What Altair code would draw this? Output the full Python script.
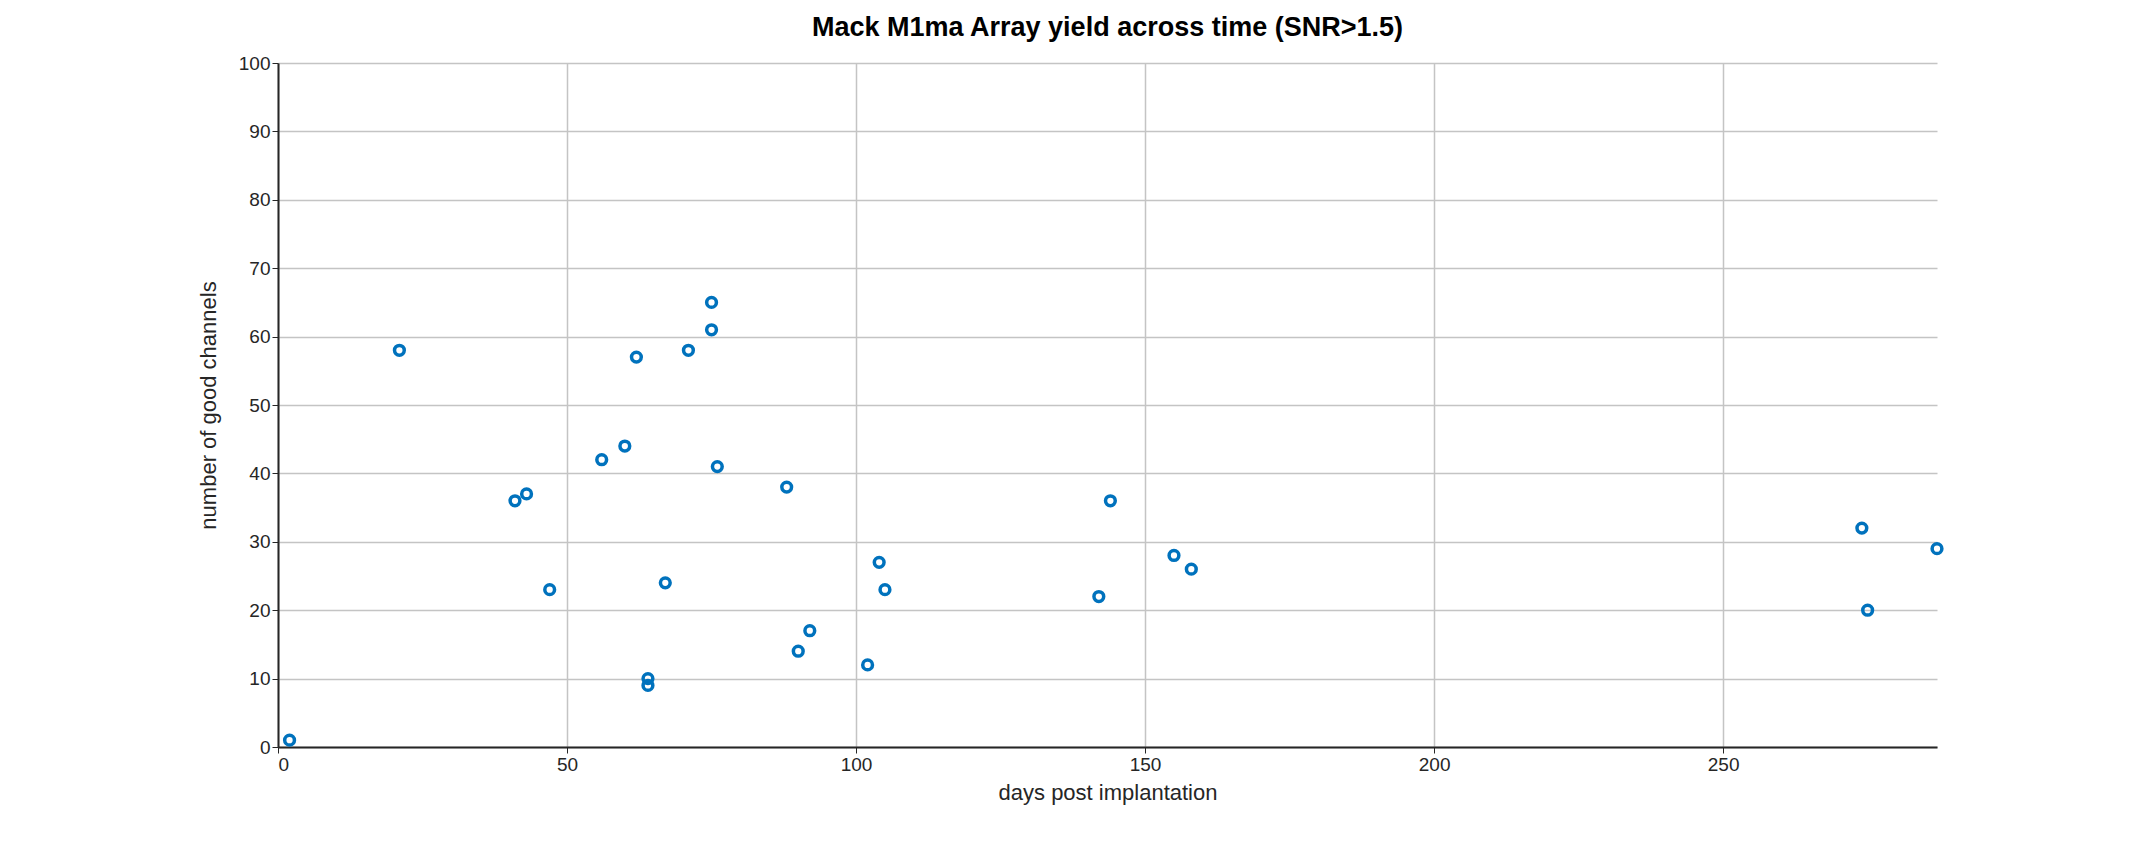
import pandas as pd
import altair as alt

days = [2, 21, 41, 43, 47, 56, 60, 62, 64, 64, 67, 71, 75, 75, 76, 88, 90, 92,
        102, 104, 105, 142, 144, 155, 158, 274, 275, 287]
channels = [1, 58, 36, 37, 23, 42, 44, 57, 10, 9, 24, 58, 65, 61, 41, 38, 14, 17,
            12, 27, 23, 22, 36, 28, 26, 32, 20, 29]

df = pd.DataFrame({"days": days, "channels": channels})

chart = alt.Chart(df).mark_point(
    shape="circle", filled=False, color="#0072BD", size=95, strokeWidth=3.5, opacity=1
).encode(
    x=alt.X("days:Q", title="days post implantation",
            scale=alt.Scale(domain=[0, 287], nice=False),
            axis=alt.Axis(values=[0, 50, 100, 150, 200, 250])),
    y=alt.Y("channels:Q", title="number of good channels",
            scale=alt.Scale(domain=[0, 100], nice=False),
            axis=alt.Axis(values=list(range(0, 101, 10)))),
).properties(
    width=1659, height=684,
    title=alt.Title("Mack M1ma Array yield across time (SNR>1.5)", fontSize=27,
                    font="Liberation Sans", fontWeight="bold", offset=12),
    autosize=alt.AutoSizeParams(type="none"),
    padding={"left": 270, "top": 55, "right": 10, "bottom": 80},
).configure_axis(
    labelFont="Liberation Sans", titleFont="Liberation Sans",
    labelFontSize=19, titleFontSize=22, titleFontWeight="normal",
    labelColor="#262626", titleColor="#262626",
    domainColor="#262626", domainWidth=2, tickColor="#262626", tickSize=6,
    gridColor="#c4c4c4", gridWidth=1.5,
).configure_axisY(domain=True, titlePadding=18).configure_axisX(titlePadding=8).configure_view(stroke=None)

chart.save("out.html", embed_options={"renderer": "svg", "actions": False})
